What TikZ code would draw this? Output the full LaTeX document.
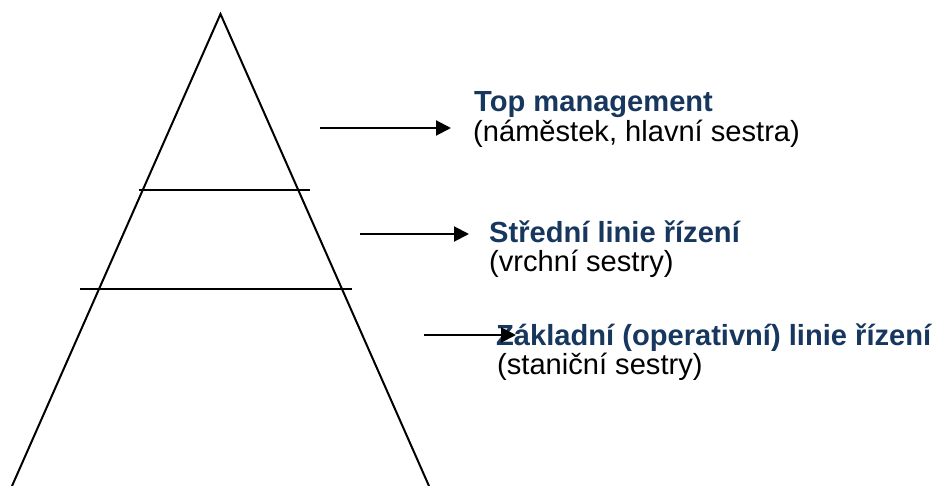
\documentclass[tikz,border=0pt]{standalone}
\usepackage{fontspec}
\setmainfont{Liberation Sans}
\usetikzlibrary{arrows.meta}
\definecolor{headblue}{RGB}{23,55,94}
\begin{document}
\begin{tikzpicture}[x=1pt,y=-1pt,
  edge/.style={line width=2pt,black},
  pointer/.style={line width=2pt,-{Triangle[length=15pt,width=15pt]}},
  head/.style={anchor=base west,inner sep=0pt,font=\fontsize{29.1}{30}\selectfont\bfseries,text=headblue},
  sub/.style={anchor=base west,inner sep=0pt,font=\fontsize{29.1}{30}\selectfont,text=black}]
\useasboundingbox (0,0) rectangle (938,486);

% pyramid sides and level dividers
\coordinate (apex) at (220.5,14);
\coordinate (bl) at (12,486);
\coordinate (br) at (429,486);
\draw[edge,line join=miter] (bl) -- (apex) -- (br);
\draw[edge] (139,190) -- (310,190);
\draw[edge] (80,289) -- (352,289);

% level labels
\node[head] (t1) at (474,112) {Top management};
\node[sub]  (s1) at (473,142) {(náměstek, hlavní sestra)};
\node[head] (t2) at (489,243) {Střední linie řízení};
\node[sub]  (s2) at (489,272) {(vrchní sestry)};
\node[head] (t3) at (496,346) {Základní (operativní) linie řízení};
\node[sub]  (s3) at (497,375) {(staniční sestry)};

% arrows pointing to the labels
\coordinate (a1s) at (320,128); \coordinate (a1e) at (451,128);
\coordinate (a2s) at (360,234); \coordinate (a2e) at (469,234);
\coordinate (a3s) at (424,335); \coordinate (a3e) at (516,335);
\draw[pointer] (a1s) -- (a1e);
\draw[pointer] (a2s) -- (a2e);
\draw[pointer] (a3s) -- (a3e);
\end{tikzpicture}
\end{document}
